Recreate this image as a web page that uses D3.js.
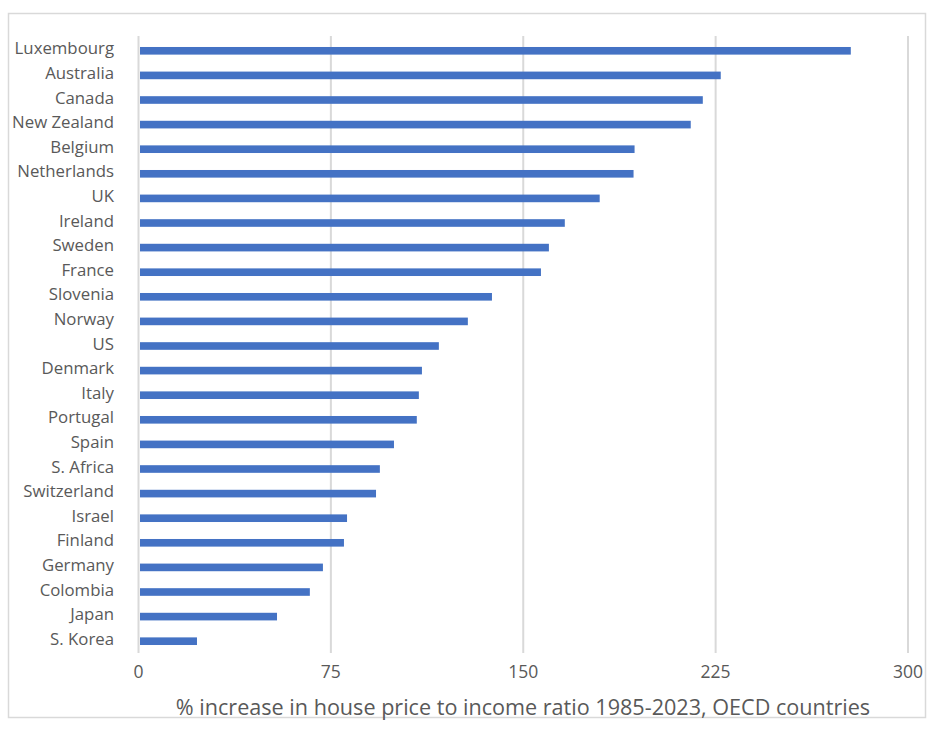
<!DOCTYPE html>
<html>
<head>
<meta charset="utf-8">
<script src="https://cdn.jsdelivr.net/npm/d3@7"></script>
<style>
  body { margin: 0; background: #fff; }
  text { font-family: "Open Sans", sans-serif; fill: #595959; }
</style>
</head>
<body>
<script>
// data
var countries = ["Luxembourg", "Australia", "Canada", "New Zealand", "Belgium", "Netherlands",
    "UK", "Ireland", "Sweden", "France", "Slovenia", "Norway", "US", "Denmark", "Italy",
    "Portugal", "Spain", "S. Africa", "Switzerland", "Israel", "Finland", "Germany",
    "Colombia", "Japan", "S. Korea"];
var increase = [277.7, 227.0, 220.0, 215.3, 193.4, 193.0, 179.8, 166.2, 160.0, 156.9,
    137.8, 128.4, 117.1, 110.5, 109.3, 108.5, 99.6, 94.1, 92.6, 81.3, 80.1, 71.9,
    66.8, 54.0, 22.8];
var tickValues = [0, 75, 150, 225, 300];
var axisTitle = "% increase in house price to income ratio 1985-2023, OECD countries";

function show_bars(width, height) {
    var svg = d3.select("body").append("svg")
                .attr("width", width)
                .attr("height", height);

    // outer frame
    svg.append("rect")
        .attr("x", 8.5).attr("y", 13.5)
        .attr("width", 917).attr("height", 704)
        .attr("fill", "none")
        .attr("stroke", "#d9d9d9")
        .attr("stroke-width", 1.5);

    var xScale = d3.scaleLinear()
                    .domain([0, 300])
                    .range([138.5, 908]);

    var yScale = d3.scaleBand()
                    .domain(countries)
                    .range([38.5, 653.5])
                    .paddingInner(0.69)
                    .paddingOuter(0.345);

    // vertical gridlines
    svg.selectAll("line.grid")
        .data(tickValues)
        .enter()
        .append("line")
        .attr("class", "grid")
        .attr("x1", function(d) { return xScale(d); })
        .attr("x2", function(d) { return xScale(d); })
        .attr("y1", 36)
        .attr("y2", 653)
        .attr("stroke", "#d9d9d9")
        .attr("stroke-width", 2);

    // bars
    svg.selectAll("rect.bar")
        .data(countries)
        .enter()
        .append("rect")
        .attr("class", "bar")
        .attr("x", xScale(0) + 1.5)
        .attr("y", function(d) { return yScale(d); })
        .attr("width", function(d, i) { return xScale(increase[i]) - xScale(0) - 1.5; })
        .attr("height", yScale.bandwidth())
        .attr("fill", "#4472c4");

    // category labels
    svg.selectAll("text.cat")
        .data(countries)
        .enter()
        .append("text")
        .attr("class", "cat")
        .attr("x", 114)
        .attr("y", function(d) { return yScale(d) + yScale.bandwidth() / 2; })
        .attr("dy", "0.22em")
        .attr("text-anchor", "end")
        .attr("font-size", "16.8px")
        .text(function(d) { return d; });

    // x tick labels
    svg.selectAll("text.tick")
        .data(tickValues)
        .enter()
        .append("text")
        .attr("class", "tick")
        .attr("x", function(d) { return xScale(d); })
        .attr("y", 678)
        .attr("text-anchor", "middle")
        .attr("font-size", "17.5px")
        .text(function(d) { return d; });

    // axis title
    svg.append("text")
        .attr("x", 523)
        .attr("y", 715)
        .attr("text-anchor", "middle")
        .attr("font-size", "21.6px")
        .text(axisTitle);
}

var width = 936;
var height = 730;

document.addEventListener("DOMContentLoaded", show_bars(width, height));
</script>
</body>
</html>
